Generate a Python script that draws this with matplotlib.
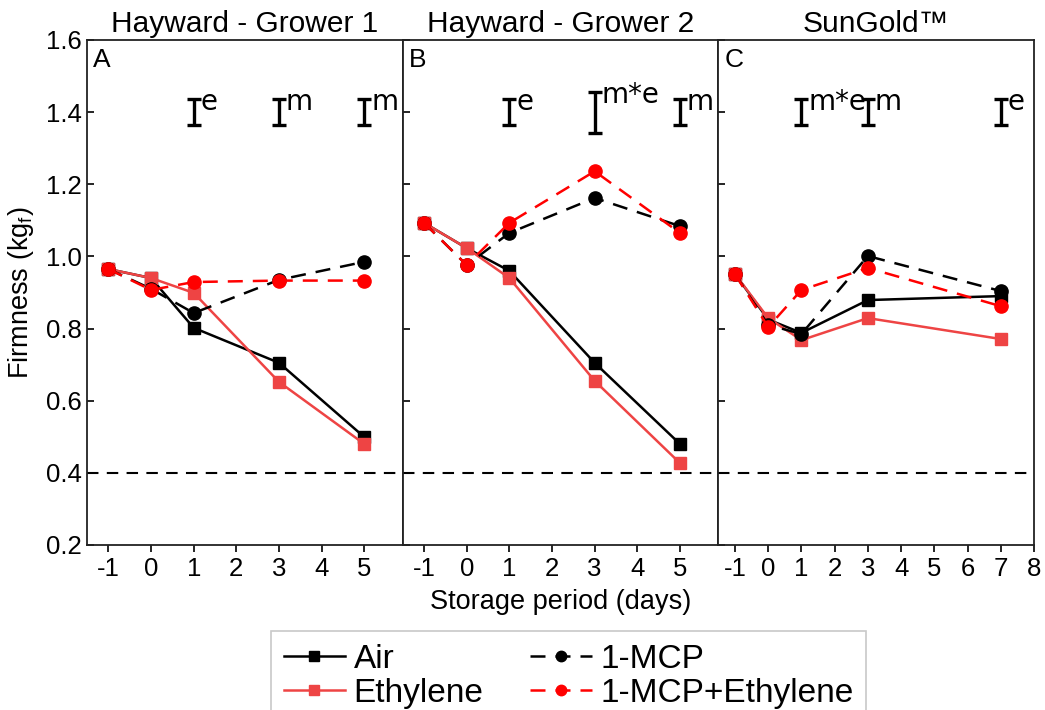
import matplotlib
matplotlib.use("Agg")
import matplotlib.pyplot as plt
from matplotlib.lines import Line2D

plt.rcParams['font.family'] = ['Liberation Sans', 'DejaVu Sans']
plt.rcParams['mathtext.fontset'] = 'custom'
plt.rcParams['mathtext.rm'] = 'Liberation Sans'
plt.rcParams['mathtext.it'] = 'Liberation Sans:italic'

# ---- data -------------------------------------------------------------
titles = ["Hayward - Grower 1", "Hayward - Grower 2", "SunGold\u2122"]
panel_letters = ["A", "B", "C"]
series_names = ["Air", "Ethylene", "1-MCP", "1-MCP+Ethylene"]

days_A = [-1, 0, 1, 3, 5]
days_B = [-1, 0, 1, 3, 5]
days_C = [-1, 0, 1, 3, 7]

air_A = [0.965, 0.940, 0.802, 0.705, 0.499]
ethylene_A = [0.965, 0.940, 0.899, 0.652, 0.480]
mcp_A = [0.965, 0.910, 0.843, 0.935, 0.985]
mcp_eth_A = [0.965, 0.907, 0.929, 0.933, 0.933]

air_B = [1.093, 1.023, 0.960, 0.705, 0.480]
ethylene_B = [1.093, 1.023, 0.940, 0.655, 0.427]
mcp_B = [1.093, 0.976, 1.065, 1.162, 1.084]
mcp_eth_B = [1.093, 0.976, 1.093, 1.236, 1.065]

air_C = [0.951, 0.825, 0.788, 0.879, 0.890]
ethylene_C = [0.951, 0.829, 0.768, 0.829, 0.771]
mcp_C = [0.951, 0.810, 0.785, 1.001, 0.904]
mcp_eth_C = [0.951, 0.804, 0.907, 0.968, 0.862]

# LSD bars: day, half-length, superscript letters
lsd_days_A = [1, 3, 5]
lsd_half_A = [0.037, 0.037, 0.037]
lsd_labels_A = ["e", "m", "m"]
lsd_days_B = [1, 3, 5]
lsd_half_B = [0.037, 0.057, 0.037]
lsd_labels_B = ["e", "m*e", "m"]
lsd_days_C = [1, 3, 7]
lsd_half_C = [0.037, 0.037, 0.037]
lsd_labels_C = ["m*e", "m", "e"]

xticks_A = [-1, 0, 1, 2, 3, 4, 5]
xticks_B = [-1, 0, 1, 2, 3, 4, 5]
xticks_C = [-1, 0, 1, 2, 3, 4, 5, 6, 7, 8]
yticks = [0.2, 0.4, 0.6, 0.8, 1.0, 1.2, 1.4, 1.6]
threshold = 0.4
lsd_center = 1.40

# ---- styles -----------------------------------------------------------
styles = [
    dict(color="black", ls="-", marker="s", ms=8.5),
    dict(color="#EE4444", ls="-", marker="s", ms=8.5),
    dict(color="black", ls=(0, (6, 4)), marker="o", ms=9.5),
    dict(color="#FF0000", ls=(0, (6, 4)), marker="o", ms=9.5),
]

panels = [
    (days_A, [air_A, ethylene_A, mcp_A, mcp_eth_A], (-1.5, 5.9), xticks_A,
     lsd_days_A, lsd_half_A, lsd_labels_A),
    (days_B, [air_B, ethylene_B, mcp_B, mcp_eth_B], (-1.5, 5.9), xticks_B,
     lsd_days_B, lsd_half_B, lsd_labels_B),
    (days_C, [air_C, ethylene_C, mcp_C, mcp_eth_C], (-1.5, 8.0), xticks_C,
     lsd_days_C, lsd_half_C, lsd_labels_C),
]

fig = plt.figure(figsize=(10.45, 7.1), dpi=100)
left, right, bottom, top = 0.0833, 0.9895, 0.2324, 0.9437
w = (right - left) / 3

for i, (days, vals, xlim, xt, ldays, lhalf, llabels) in enumerate(panels):
    ax = fig.add_axes([left + i * w, bottom, w, top - bottom])
    ax.axhline(threshold, color="black", ls=(0, (5.5, 4)), lw=1.5, zorder=1)
    for v, st in zip(vals, styles):
        ax.plot(days, v, color=st["color"], ls=st["ls"], lw=1.8,
                marker=st["marker"], ms=st["ms"], mec=st["color"],
                mfc=st["color"], zorder=3)
    span = xlim[1] - xlim[0]
    for d, h, lab in zip(ldays, lhalf, llabels):
        ax.errorbar([d], [lsd_center], yerr=[h], fmt="none", ecolor="black",
                    elinewidth=2.4, capsize=5, capthick=2.4, zorder=4)
        ax.text(d + 0.022 * span, lsd_center + h - 0.032, lab,
                fontsize=20, family="DejaVu Sans", ha="left",
                va="baseline")
    ax.set_xlim(*xlim)
    ax.set_ylim(0.2, 1.6)
    ax.set_xticks(xt)
    ax.set_xticklabels([str(t) for t in xt])
    ax.set_yticks(yticks)
    if i == 0:
        ax.set_yticklabels([f"{t:.1f}" for t in yticks])
    else:
        ax.set_yticklabels([])
    ax.tick_params(axis="y", direction="in", length=5, width=1.2,
                   labelsize=18.5, right=False)
    ax.tick_params(axis="x", direction="out", length=5, width=1.2,
                   labelsize=18.5, top=False, pad=4)
    for sp in ax.spines.values():
        sp.set_linewidth(1.3)
        sp.set_color("#222222")
    ax.set_title(titles[i], fontsize=21.5, pad=6)
    ax.text(0.02, 0.985, panel_letters[i], transform=ax.transAxes,
            fontsize=19, ha="left", va="top")

fig.text(0.02, (bottom + top) / 2, "Firmness (kg$_\\mathrm{f}$)",
         rotation=90, ha="center", va="center", fontsize=19.5)
fig.text(left + 1.5 * w, 0.152, "Storage period (days)",
         ha="center", va="center", fontsize=19.5)

handles = [Line2D([], [], color=st["color"], ls=st["ls"], lw=1.8,
                  marker=st["marker"], ms=7.5, mec=st["color"],
                  mfc=st["color"]) for st in styles]
leg = fig.legend(handles, series_names, ncol=2, loc="upper center",
                 bbox_to_anchor=(0.544, 0.111), fontsize=24,
                 frameon=True, fancybox=False, edgecolor="#BBBBBB",
                 handlelength=1.85, columnspacing=1.4, labelspacing=0.08,
                 handletextpad=0.25, borderpad=0.38, borderaxespad=0.0)
leg.get_frame().set_linewidth(1.2)

fig.savefig("out.png", dpi=100)
